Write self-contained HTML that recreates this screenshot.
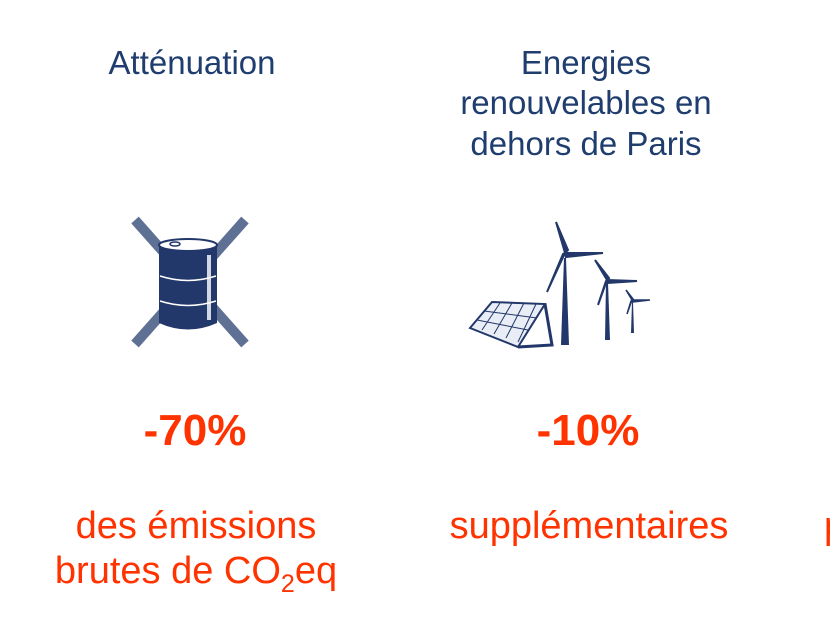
<!DOCTYPE html>
<html><head><meta charset="utf-8"><style>
html,body{margin:0;padding:0;background:#fff;width:830px;height:623px;overflow:hidden}
svg{display:block}
text{font-family:"Liberation Sans",sans-serif}
</style></head><body>
<svg width="830" height="623" viewBox="0 0 830 623">
<g fill="#1f3d6e" font-size="33" text-anchor="middle">
<text x="192" y="74">Atténuation</text>
<text x="586" y="74">Energies</text>
<text x="586" y="114">renouvelables en</text>
<text x="586" y="155">dehors de Paris</text>
</g>
<g>
<line x1="135" y1="220" x2="245" y2="344" stroke="#5f7095" stroke-width="10"/>
<line x1="245" y1="220" x2="135" y2="344" stroke="#5f7095" stroke-width="10"/>
<path d="M159 245 Q188 232 217 245 L217 323 Q188 336 159 323 Z" fill="#22376a"/>
<ellipse cx="188" cy="245" rx="29" ry="6" fill="#fff" stroke="#22376a" stroke-width="2"/>
<ellipse cx="175" cy="244" rx="5" ry="2" fill="none" stroke="#22376a" stroke-width="1.5"/>
<path d="M160 276 Q188 285 216 276 M160 301 Q188 310 216 301" stroke="#fff" stroke-width="1.5" fill="none"/>
<rect x="207" y="255" width="4" height="65" fill="#fff" opacity="0.8"/>
</g>
<g fill="#22376a" stroke="#22376a">
<polygon points="470,328 492,302 545,304 518,347" fill="#e9edf5" stroke-width="2"/>
<g stroke-width="1" stroke="#22376a">
<line x1="477" y1="320" x2="528" y2="330"/><line x1="484" y1="311" x2="537" y2="318"/>
<line x1="482" y1="330" x2="500" y2="303"/><line x1="494" y1="334" x2="512" y2="303"/><line x1="506" y1="338" x2="524" y2="303"/><line x1="518" y1="342" x2="536" y2="304"/>
</g>
<polyline points="545,304 552,345 518,347" fill="none" stroke-width="3"/>
<polygon points="561,345 569,345 566,258 564,258" stroke="none"/>
<path d="M565 253 L556 222 L568 250 Z M565 253 L603 253 L566 257 Z M565 253 L547 292 L563 254 Z" stroke-width="2"/>
<polygon points="605,340 610,340 608,282 606,282" stroke="none"/>
<path d="M607 280 L595 260 L609 278 Z M607 280 L637 281 L608 283 Z M607 280 L598 305 L606 281 Z" stroke-width="2"/>
<polygon points="631,333 634,333 633,302 632,302" stroke="none"/>
<path d="M632 300 L626 290 L633 299 Z M632 300 L650 300 L633 302 Z M632 300 L627 314 L631 301 Z" stroke-width="1.5"/>
</g>
<g fill="#ff3300" text-anchor="middle">
<text x="195" y="445" font-size="44" font-weight="bold">-70%</text>
<text x="588" y="445" font-size="44" font-weight="bold">-10%</text>
<text x="196" y="538" font-size="38">des émissions</text>
<text x="196" y="583" font-size="38">brutes de CO<tspan font-size="25" dy="9">2</tspan><tspan dy="-9">eq</tspan></text>
<text x="589" y="538" font-size="38">supplémentaires</text>
<text x="824" y="538" font-size="38" text-anchor="start">p</text>
</g>
</svg>
</body></html>
